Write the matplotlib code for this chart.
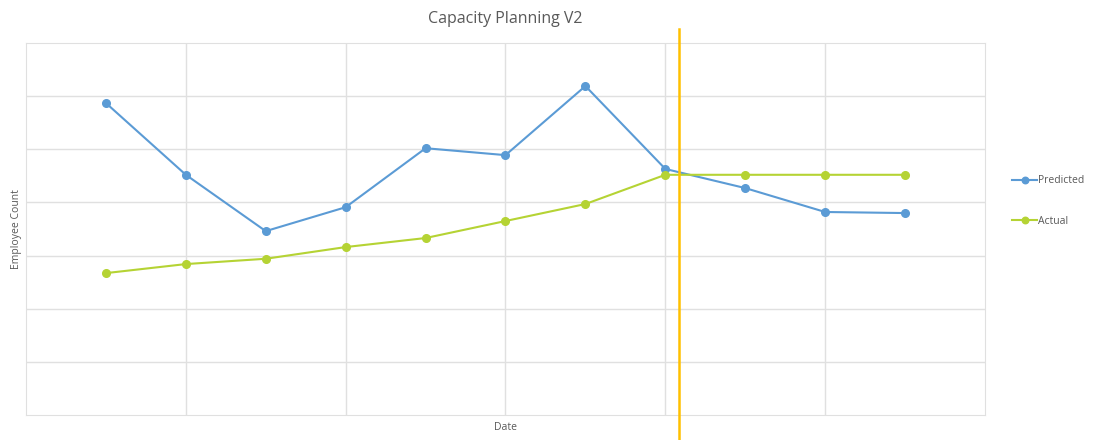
import matplotlib
matplotlib.use("Agg")
import matplotlib.pyplot as plt
import numpy as np

plt.rcParams['font.family'] = ['Open Sans', 'DejaVu Sans']

# one value per date (11 dates, no tick labels shown)
predicted = [5.87, 4.52, 3.46, 3.91, 5.02, 4.89, 6.19, 4.63, 4.27, 3.82, 3.80]
actual = [2.67, 2.84, 2.94, 3.16, 3.33, 3.65, 3.97, 4.52, 4.52, 4.52, 4.52]
today_pos = 7.175

fig = plt.figure(figsize=(10.93, 4.4), dpi=100)
ax = fig.add_axes([26 / 1093, 25 / 440, 959 / 1093, 372 / 440])

x = np.arange(len(predicted))
ax.plot(x, predicted, color='#5B9BD5', lw=1.5, marker='o', ms=5.5, label='Predicted', zorder=3)
ax.plot(x, actual, color='#B5D334', lw=1.5, marker='o', ms=5.5, label='Actual', zorder=3)

ax.set_xlim(-1, 11)
ax.set_ylim(0, 7)
ax.set_xticks([1, 3, 5, 7, 9])
ax.set_yticks(range(1, 7))
ax.tick_params(length=0, labelbottom=False, labelleft=False)
ax.grid(True, color='#E0E0E0', lw=1)
for s in ax.spines.values():
    s.set_color('#E0E0E0')

ax.axvline(today_pos, ymin=-0.068, ymax=1.038, color='#FFC000', lw=1.8, clip_on=False, zorder=4)

ax.set_title('Capacity Planning V2', fontsize=11.5, color='#595959', pad=14.5)
ax.set_xlabel('Date', fontsize=7.5, color='#595959', labelpad=5)
ax.set_ylabel('Employee Count', fontsize=7.5, color='#595959', labelpad=3)

fig.legend(loc='upper left', bbox_to_anchor=(1003 / 1093, 1 - 166 / 440), frameon=False,
           fontsize=7.5, labelcolor='#595959', handlelength=2.4, handletextpad=0.1,
           labelspacing=2.8, markerscale=0.85)

fig.savefig('out.png', dpi=100)
